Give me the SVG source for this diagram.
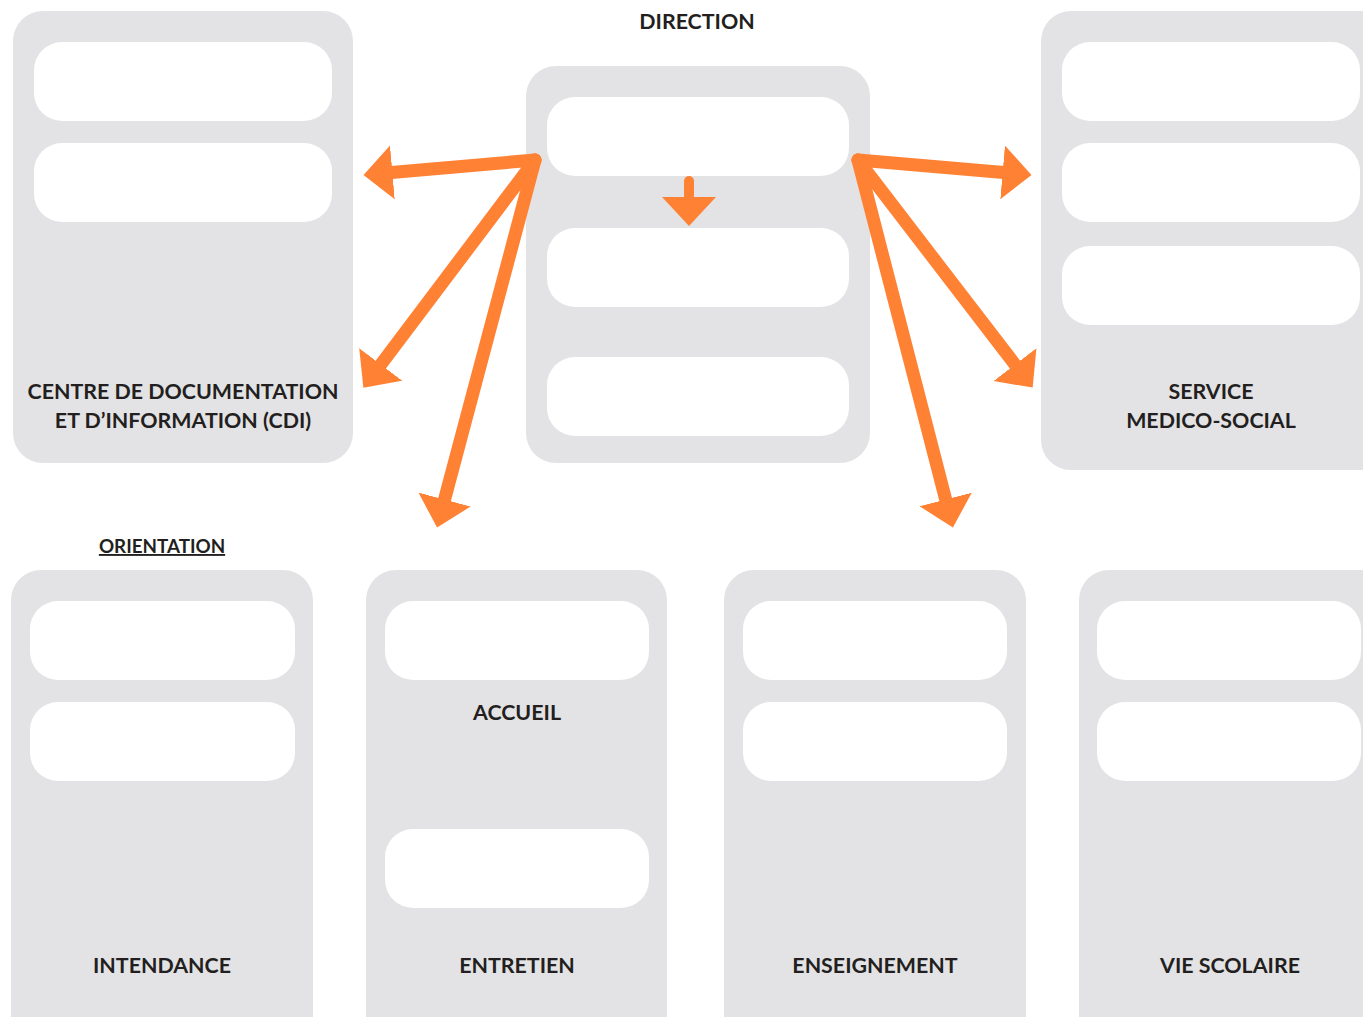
<svg xmlns="http://www.w3.org/2000/svg" width="1363" height="1017" viewBox="0 0 1363 1017">
<style>
.box{fill:#e3e3e5}
.slot{fill:#ffffff}
.lbl{font-family:Lato,"Open Sans","DejaVu Sans",sans-serif;font-weight:bold;font-size:21.4px;fill:#231f20;text-anchor:middle}
.arr{stroke:#ff8133;stroke-width:13;stroke-linecap:round;fill:none}
</style>
<defs>
<marker id="head" markerUnits="userSpaceOnUse" markerWidth="32" markerHeight="56" refX="1" refY="27" orient="auto" viewBox="0 0 32 56">
<path d="M0,0 L29,27 L0,54 Z" fill="#ff8133"/>
</marker>
</defs>
<rect width="1363" height="1017" fill="#ffffff"/>

<g id="cdi">
<rect class="box" x="13" y="11" width="340" height="452" rx="30"/>
<rect class="slot" x="34" y="42" width="298" height="79" rx="28"/>
<rect class="slot" x="34" y="143" width="298" height="79" rx="28"/>
<text class="lbl" x="183" y="399">CENTRE DE DOCUMENTATION</text>
<text class="lbl" x="183" y="428">ET D’INFORMATION (CDI)</text>
</g>

<g id="direction">
<text class="lbl" x="697" y="29">DIRECTION</text>
<rect class="box" x="526" y="66" width="344" height="397" rx="30"/>
<rect class="slot" x="547" y="97" width="302" height="79" rx="28"/>
<rect class="slot" x="547" y="228" width="302" height="79" rx="28"/>
<rect class="slot" x="547" y="357" width="302" height="79" rx="28"/>
</g>

<g id="medico-social">
<rect class="box" x="1041" y="11" width="360" height="459" rx="30"/>
<rect class="slot" x="1062" y="42" width="298" height="79" rx="28"/>
<rect class="slot" x="1062" y="143" width="298" height="79" rx="28"/>
<rect class="slot" x="1062" y="246" width="298" height="79" rx="28"/>
<text class="lbl" x="1211" y="399">SERVICE</text>
<text class="lbl" x="1211" y="428">MEDICO-SOCIAL</text>
</g>

<g id="orientation">
<text class="lbl" x="162" y="553" style="font-size:18.8px;text-decoration:underline">ORIENTATION</text>
</g>

<g id="intendance">
<rect class="box" x="11" y="570" width="302" height="480" rx="30"/>
<rect class="slot" x="30" y="601" width="265" height="79" rx="28"/>
<rect class="slot" x="30" y="702" width="265" height="79" rx="28"/>
<text class="lbl" x="162" y="973">INTENDANCE</text>
</g>

<g id="accueil-entretien">
<rect class="box" x="366" y="570" width="301" height="480" rx="30"/>
<rect class="slot" x="385" y="601" width="264" height="79" rx="28"/>
<text class="lbl" x="517" y="720">ACCUEIL</text>
<rect class="slot" x="385" y="829" width="264" height="79" rx="28"/>
<text class="lbl" x="517" y="973">ENTRETIEN</text>
</g>

<g id="enseignement">
<rect class="box" x="724" y="570" width="302" height="480" rx="30"/>
<rect class="slot" x="743" y="601" width="264" height="79" rx="28"/>
<rect class="slot" x="743" y="702" width="264" height="79" rx="28"/>
<text class="lbl" x="875" y="973">ENSEIGNEMENT</text>
</g>

<g id="vie-scolaire">
<rect class="box" x="1079" y="570" width="320" height="480" rx="30"/>
<rect class="slot" x="1097" y="601" width="264" height="79" rx="28"/>
<rect class="slot" x="1097" y="702" width="264" height="79" rx="28"/>
<text class="lbl" x="1230" y="973">VIE SCOLAIRE</text>
</g>

<g id="connectors">
<line class="arr" x1="535" y1="160" x2="391.4" y2="172.5" marker-end="url(#head)"/>
<line class="arr" x1="535" y1="160" x2="380.2" y2="365.3" marker-end="url(#head)"/>
<line class="arr" x1="535" y1="160" x2="444.3" y2="500.5" marker-end="url(#head)"/>
<line class="arr" x1="858" y1="160" x2="1003.6" y2="172.5" marker-end="url(#head)"/>
<line class="arr" x1="858" y1="160" x2="1015.6" y2="365.4" marker-end="url(#head)"/>
<line class="arr" x1="858" y1="160" x2="945.9" y2="500.4" marker-end="url(#head)"/>
<line class="arr" style="stroke-width:10" x1="689" y1="181" x2="689" y2="198" marker-end="url(#head)"/>
</g>
</svg>
